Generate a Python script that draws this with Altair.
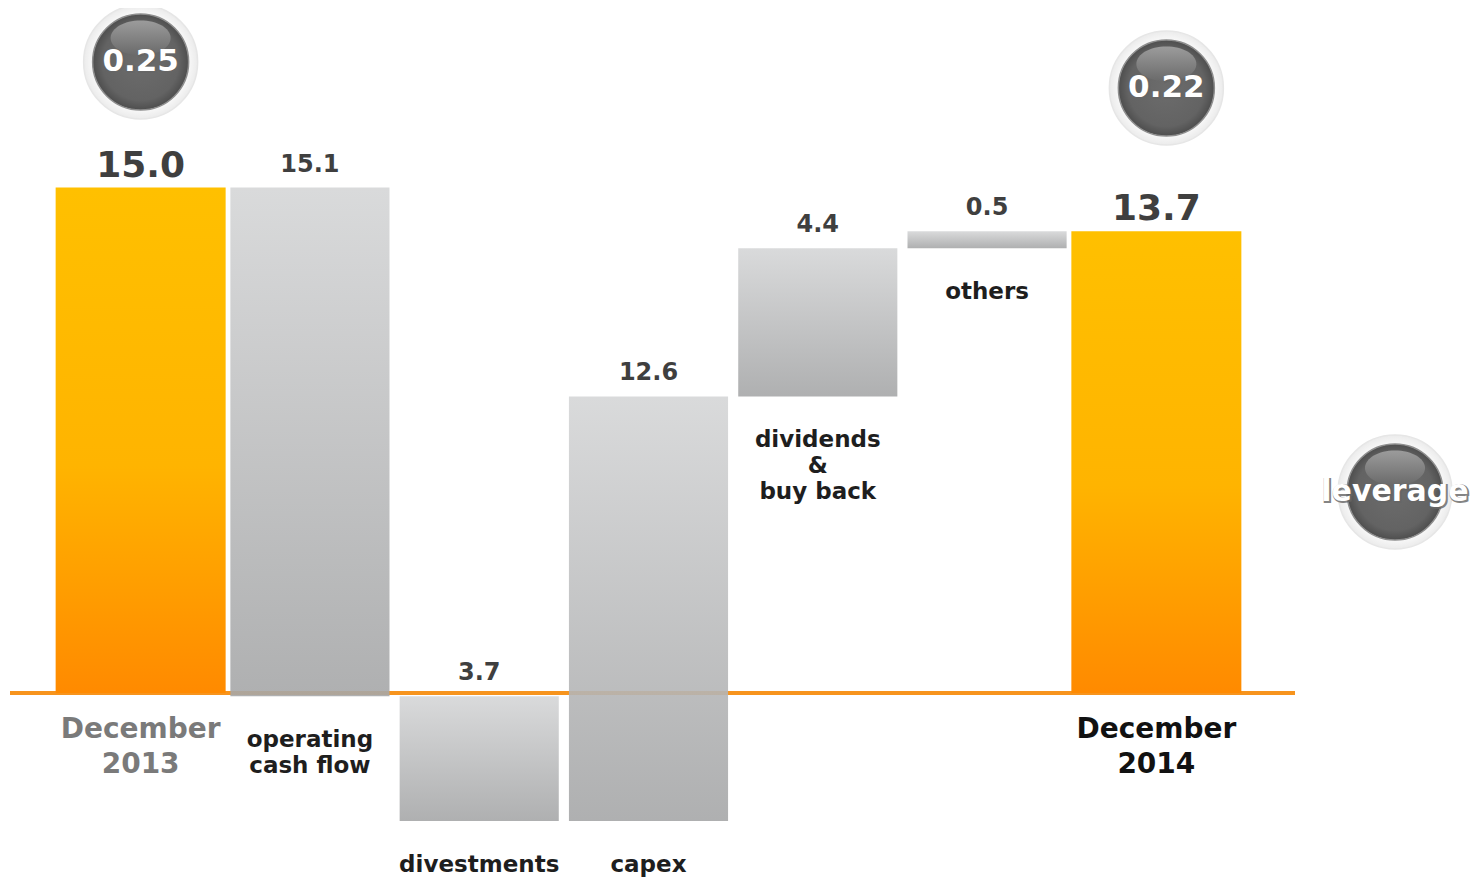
import altair as alt
import pandas as pd

# ---- data ----
categories = ["December 2013", "operating cash flow", "divestments", "capex",
              "dividends & buy back", "others", "December 2014"]
label_text = ["December\n2013", "operating\ncash flow", "divestments", "capex",
              "dividends\n&\nbuy back", "others", "December\n2014"]
changes = [15.0, -15.1, -3.7, 12.6, 4.4, 0.5, 13.7]
kinds = ["total", "flow", "flow", "flow", "flow", "flow", "total"]
value_text = ["15.0", "15.1", "3.7", "12.6", "4.4", "0.5", "13.7"]
leverage_cats = ["December 2013", "December 2014"]
leverage_values = [0.25, 0.22]

# ---- build waterfall table ----
rows = []
running = 0.0
for c, lab, v, k, vt in zip(categories, label_text, changes, kinds, value_text):
    if k == "total":
        start, end = 0.0, v
        running = v
    else:
        start, end = running, running + v
        running = end
    rows.append({"cat": c, "lab": lab, "start": start, "end": end,
                 "top": max(start, end), "bottom": min(start, end),
                 "kind": k, "vtext": vt})
df = pd.DataFrame(rows)
lev = pd.DataFrame({"cat": leverage_cats, "lev": [f"{v:.2f}" for v in leverage_values]})

# ---- geometry / style ----
W, H = 1185, 870
PX = 33.7
ZERO_Y = 685
yscale = alt.Scale(domain=[-(H - ZERO_Y) / PX, ZERO_Y / PX], nice=False, zero=False)
xenc = alt.X("cat:N", sort=categories, axis=None,
             scale=alt.Scale(paddingInner=0.06, paddingOuter=0.03))
FONT = "DejaVu Sans"

orange = alt.LinearGradient(gradient="linear", x1=0, x2=0, y1=0, y2=1, stops=[
    alt.GradientStop(color="#FFC000", offset=0),
    alt.GradientStop(color="#FFB400", offset=0.55),
    alt.GradientStop(color="#FF8A00", offset=1)])
gray = alt.LinearGradient(gradient="linear", x1=0, x2=0, y1=0, y2=1, stops=[
    alt.GradientStop(color="#d5d6d7", offset=0),
    alt.GradientStop(color="#a6a7a8", offset=1)])
sphere = alt.RadialGradient(gradient="radial", x1=0.5, y1=0.5, r1=0.0,
                            x2=0.5, y2=0.5, r2=0.5, stops=[
    alt.GradientStop(color="#6c6c6c", offset=0),
    alt.GradientStop(color="#636363", offset=0.8),
    alt.GradientStop(color="#4e4e4e", offset=1)])
gloss = alt.LinearGradient(gradient="linear", x1=0, x2=0, y1=0, y2=1, stops=[
    alt.GradientStop(color="#a2a2a2", offset=0),
    alt.GradientStop(color="#6a6a6a", offset=1)])
halo = alt.RadialGradient(gradient="radial", x1=0.5, y1=0.5, r1=0.0,
                          x2=0.5, y2=0.5, r2=0.5, stops=[
    alt.GradientStop(color="#ffffff", offset=0.75),
    alt.GradientStop(color="#ebebeb", offset=1)])
ELLIPSE = "M-1,0 A1,0.58 0 1,1 1,0 A1,0.58 0 1,1 -1,0 Z"

base = alt.Chart(df)

baseline = alt.Chart(pd.DataFrame({"z": [0.0]})).mark_rule(
    color="#F7941D", strokeWidth=4).encode(
    x=alt.value(-46), x2=alt.value(1239), y=alt.Y("z:Q", scale=yscale, axis=None))

totals = base.transform_filter(alt.datum.kind == "total").mark_bar(
    width=170, fill=orange).encode(
    x=xenc, y=alt.Y("bottom:Q", scale=yscale, axis=None), y2="top:Q")

flows = base.transform_filter(alt.datum.kind == "flow").mark_bar(
    fill=gray, opacity=0.9).encode(
    x=xenc, y=alt.Y("bottom:Q", scale=yscale, axis=None), y2="top:Q")

tot_vals = base.transform_filter(alt.datum.kind == "total").mark_text(
    font=FONT, fontWeight="bold", fontSize=36, color="#3f3f3f",
    baseline="alphabetic", dy=-11).encode(
    x=xenc, y=alt.Y("top:Q", scale=yscale), text="vtext:N")

flow_vals = base.transform_filter(alt.datum.kind == "flow").mark_text(
    font=FONT, fontWeight="bold", fontSize=24, color="#3f3f3f",
    baseline="alphabetic", dy=-16).encode(
    x=xenc, y=alt.Y("top:Q", scale=yscale), text="vtext:N")

tot_labs = base.transform_filter(alt.datum.kind == "total").mark_text(
    font=FONT, fontWeight="bold", fontSize=28, baseline="top", dy=23,
    lineBreak="\n", lineHeight=35).encode(
    x=xenc, y=alt.Y("bottom:Q", scale=yscale), text="lab:N",
    color=alt.condition(alt.datum.cat == "December 2013",
                        alt.value("#7a7a7a"), alt.value("#111111")))

flow_labs = base.transform_filter(alt.datum.kind == "flow").mark_text(
    font=FONT, fontWeight="bold", fontSize=23, baseline="top", dy=33,
    color="#1e1e1e", lineBreak="\n", lineHeight=26).encode(
    x=xenc, y=alt.Y("bottom:Q", scale=yscale), text="lab:N")


def bubble(data, xe, yv, label, fsize, xoff=0):
    ch = alt.Chart(data)
    h = ch.mark_circle(size=12996, fill=halo, opacity=1, stroke="#e6e6e6",
                       strokeWidth=1.5, xOffset=xoff).encode(x=xe, y=alt.value(yv))
    s = ch.mark_circle(size=9216, fill=sphere, opacity=1, stroke="#8e8e8e",
                       strokeWidth=1.5, xOffset=xoff).encode(x=xe, y=alt.value(yv))
    g = ch.mark_point(shape=ELLIPSE, size=3600, filled=True, fill=gloss, opacity=0.9,
                      strokeWidth=0, xOffset=xoff, yOffset=-24).encode(
        x=xe, y=alt.value(yv))
    sh = ch.mark_text(font=FONT, fontWeight="bold", fontSize=fsize, color="#333333",
                      stroke="#666666", strokeWidth=2, opacity=0.8,
                      baseline="middle", dx=1 + xoff, dy=1).encode(
        x=xe, y=alt.value(yv), text=label)
    t = ch.mark_text(font=FONT, fontWeight="bold", fontSize=fsize, color="#ffffff",
                     baseline="middle", dx=xoff).encode(x=xe, y=alt.value(yv), text=label)
    return [h, s, g, sh, t]


b1 = bubble(lev[lev.cat == "December 2013"], xenc, 54, "lev:N", 31)
b2 = bubble(lev[lev.cat == "December 2014"], xenc, 80, "lev:N", 31, xoff=10)
levtxt = pd.DataFrame({"t": ["leverage"]})
b3 = bubble(levtxt, alt.value(1339), 484, "t:N", 30)

chart = alt.layer(baseline, totals, flows, tot_vals, flow_vals, tot_labs, flow_labs,
                  *b1, *b2, *b3).properties(
    width=W, height=H,
    padding={"left": 48, "top": 0, "right": 230, "bottom": 0},
    autosize=alt.AutoSizeParams(type="none"),
    background="#ffffff",
).configure_view(stroke=None)

chart.save("out.html", embed_options={"renderer": "svg", "actions": False})
